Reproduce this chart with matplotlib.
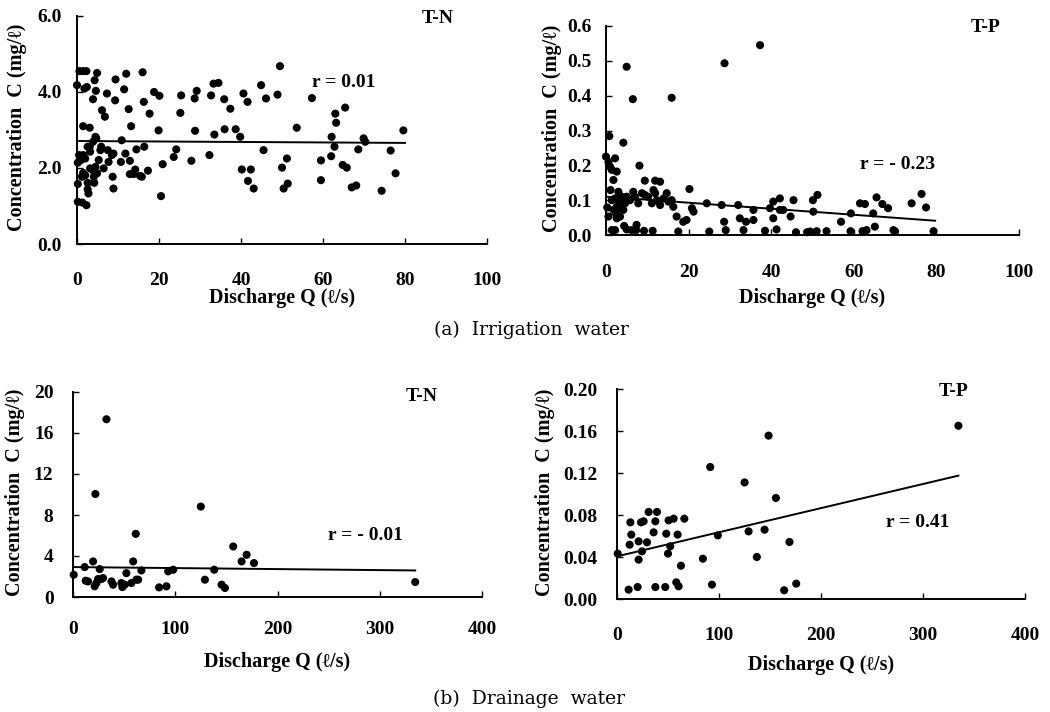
import matplotlib
matplotlib.use("Agg")
import matplotlib.pyplot as plt

# (a) Irrigation water, T-N
irr_tn_q = [0, 0.6, 1.5, 2.3, 1.8, 2.4, 4.9, 4.3, 4.6, 3.9, 7.3, 9.4, 12, 11.5, 9.3,
            6.1, 6.8, 12.6, 16, 16.3, 17.7, 18.8, 20.1, 13.2, 1.5, 3.1, 25.2, 25.4,
            28.7, 29.2, 28.8, 32.7, 33.3, 34.5, 33.5, 35.9, 37.4, 36, 38.7, 39.8,
            40.6, 41.6, 44.9, 46.1, 48.9, 49.5, 45.5, 40.2, 42.4, 41.7, 43.1, 50,
            51.2, 50.4, 51.4, 53.6, 57.3, 59.5, 59.5, 62.1, 62, 63, 63.2, 62.8, 65.4,
            64.8, 65.8, 67, 68.1, 68.6, 69.9, 70.3, 74.3, 76.5, 77.7, 79.6,
            0.2, 0.2, 1.3, 2.3, 0.5, 1, 1.5, 2, 1.2, 1.5, 2, 2.6, 2.6, 2.8, 2.6, 3.2,
            3.1, 3.9, 4.5, 4.7, 3.2, 3.9, 4.5, 4.9, 4.1, 4.2, 5.3, 5.7, 5.9, 6.5, 7.5,
            7.7, 8.5, 8.9, 8.7, 8.9, 10.9, 10.7, 11.8, 12.9, 12.9, 13.8, 14.2, 14.5,
            15.4, 15.8, 16.4, 17.3, 19.9, 20.5, 20.9, 23.6, 24.2, 27.9, 32.3, 0.2]
irr_tn_c = [4.18, 4.55, 4.55, 4.55, 4.09, 4.13, 4.5, 4.31, 4.03, 3.81, 3.96, 4.33, 4.48,
            4.07, 3.78, 3.52, 3.35, 3.55, 4.52, 3.74, 3.43, 4.0, 3.9, 3.1, 3.1, 3.06,
            3.45, 3.91, 3.83, 4.03, 2.98, 3.91, 4.22, 4.24, 2.88, 3.81, 3.56, 3.02,
            3.02, 2.82, 3.96, 3.74, 4.18, 3.83, 3.93, 4.68, 2.47, 1.96, 1.96, 1.66,
            1.46, 2.01, 2.25, 1.46, 1.59, 3.06, 3.84, 2.2, 1.68, 2.82, 2.31, 3.43,
            3.19, 2.56, 3.59, 2.08, 2.01, 1.49, 1.54, 2.49, 2.78, 2.69, 1.4, 2.46,
            1.86, 2.99,
            1.58, 1.11, 1.09, 1.02, 2.34, 2.21, 2.34, 2.25, 1.77, 1.87, 1.81, 1.61,
            1.44, 1.33, 2.56, 2.43, 2.56, 2.69, 2.82, 2.78, 1.99, 1.94, 2.03, 1.86,
            1.77, 1.61, 2.21, 2.47, 2.56, 1.99, 2.47, 2.16, 2.34, 2.38, 1.77, 1.46,
            2.73, 2.16, 2.38, 2.19, 1.84, 1.84, 1.96, 2.49, 1.79, 1.77, 2.56, 1.93,
            2.99, 1.26, 2.1, 2.29, 2.49, 2.19, 2.34, 2.14]
irr_tn_fit_q = [0, 80]
irr_tn_fit_c = [2.71, 2.66]

# (a) Irrigation water, T-P
irr_tp_q = [5, 6.5, 15.9, 28.7, 37.3, 0.8, 4.2, 0, 0.6, 1, 1.4, 2.2, 2.6, 1.8, 8.1, 9.4,
            11.9, 13.1, 20.2, 0.6, 0.3, 1.1,
            1.4, 2.2, 2.6, 3, 3.4, 1.8, 2.4, 3, 3.8, 4.2, 4.6, 3.4, 2.6, 5,
            5.8, 6.6, 7, 7.8, 8.7, 9.4, 10.2, 11.1, 11.5, 11.9, 12.3, 13.1, 13.9, 14.7,
            15.1, 15.9, 16.3, 17.1, 18.7, 19.5, 20.8, 21.2, 24.4, 28, 28.6, 32, 32.4,
            33.9, 35.7, 35.7, 39.7, 40.5, 42.1, 42.1, 40.5, 42.9, 44.7, 45.4, 50.1,
            51.2, 50.2, 56.9, 59.3, 61.5, 62.7, 64.7, 65.5, 66.9, 68.3, 74, 76.4, 77.5,
            1.4, 2.2, 4.4, 5, 6.2, 7.4, 7.3, 9.2, 11.3, 17.5, 25, 29, 33.3, 38.5, 41.3,
            46, 48.7, 49.4, 51, 53.4, 59.2, 62.1, 63.1, 65.1, 69.6, 70, 79.3]
irr_tp_c = [0.483, 0.39, 0.394, 0.493, 0.545, 0.284, 0.265, 0.225, 0.21, 0.196, 0.187,
            0.22, 0.182, 0.158, 0.199, 0.156, 0.156, 0.153, 0.132, 0.053, 0.079, 0.129,
            0.1, 0.105, 0.081, 0.096, 0.077, 0.072, 0.062, 0.124, 0.11, 0.072, 0.091,
            0.053, 0.048, 0.11,
            0.1, 0.124, 0.11, 0.091, 0.12, 0.115, 0.11, 0.091, 0.129, 0.12, 0.1, 0.086,
            0.105, 0.12, 0.096, 0.1, 0.081, 0.053, 0.038, 0.043, 0.077, 0.067, 0.091,
            0.086, 0.038, 0.086, 0.048, 0.038, 0.043, 0.072, 0.077, 0.096, 0.105, 0.072,
            0.048, 0.072, 0.053, 0.1, 0.1, 0.115, 0.067, 0.038, 0.062, 0.091, 0.089,
            0.062, 0.108, 0.089, 0.077, 0.091, 0.118, 0.079,
            0.014, 0.014, 0.026, 0.016, 0.014, 0.029, 0.014, 0.012, 0.012, 0.01, 0.01,
            0.014, 0.014, 0.012, 0.016, 0.008, 0.008, 0.01, 0.011, 0.011, 0.011, 0.011,
            0.014, 0.024, 0.014, 0.01, 0.011]
irr_tp_fit_q = [0, 79.7]
irr_tp_fit_c = [0.110, 0.041]

# (b) Drainage water, T-N
dr_tn_q = [0.7, 11.4, 12.4, 14.7, 19.6, 21.9, 21.2, 22.9, 24.5, 26.1, 27.8, 29.4, 32.7,
           37.6, 39.2, 47.3, 48.3, 50.6, 52.2, 57.1, 58.8, 61.4, 62, 63.7, 66.9, 84.2,
           91.4, 93.1, 98, 125, 129, 138.1, 145.3, 148.6, 156.7, 164.9, 169.8, 177,
           334.7]
dr_tn_c = [2.17, 2.92, 1.59, 1.52, 3.47, 10.05, 1.04, 1.36, 1.75, 2.72, 1.75, 1.85,
           17.34, 1.52, 1.2, 1.36, 0.97, 1.2, 2.33, 1.36, 3.47, 6.16, 1.69, 1.69, 2.59,
           0.94, 1.04, 2.5, 2.66, 8.82, 1.69, 2.66, 1.2, 0.88, 4.93, 3.47, 4.12, 3.31,
           1.46]
dr_tn_fit_q = [0, 334.7]
dr_tn_fit_c = [2.92, 2.59]

# (b) Drainage water, T-P
dr_tp_q = [0.7, 11.4, 12.4, 13.1, 14, 20.2, 21.2, 21.2, 23.5, 24.5, 26.1, 29.4, 31, 35.9,
           37.6, 37.6, 39.2, 47.3, 48.3, 50, 50.6, 52.2, 55.5, 58.1, 59.4, 60.4, 62.7,
           66, 84.2, 91.4, 93.1, 98.9, 125.1, 129, 137.1, 144.7, 148.6, 155.8, 163.9,
           169.1, 175.7, 334.7]
dr_tp_c = [0.0432, 0.0089, 0.0517, 0.073, 0.0613, 0.0114, 0.0549, 0.0375, 0.073, 0.0454,
           0.074, 0.054, 0.0829, 0.0635, 0.074, 0.0114, 0.0829, 0.0114, 0.0622, 0.0432,
           0.0749, 0.0502, 0.0765, 0.0159, 0.0613, 0.0121, 0.0317, 0.0765, 0.0384,
           0.1257, 0.0137, 0.0606, 0.111, 0.0644, 0.04, 0.066, 0.1556, 0.0962, 0.0083,
           0.0543, 0.0146, 0.165]
dr_tp_fit_q = [0, 334.7]
dr_tp_fit_c = [0.0406, 0.1175]

W, H = 1050, 712
SERIF = ["Liberation Serif", "DejaVu Serif"]
plt.rcParams["font.family"] = SERIF
plt.rcParams["font.weight"] = "bold"

fig = plt.figure(figsize=(W / 100, H / 100), dpi=100)


def px_axes(left, top, right, bottom):
    return fig.add_axes([left / W, 1 - bottom / H, (right - left) / W, (bottom - top) / H])


def panel(ax, q, c, fq, fc, xmax, xstep, ymax, yticks, yfmt, xpad, ypad,
          name, name_pos, r_text, r_pos, xlab_y, ylab_x):
    ax.scatter(q, c, s=34, color="black", edgecolors="none", zorder=3, clip_on=False)
    ax.plot(fq, fc, color="black", lw=1.4, zorder=2)
    ax.set_xlim(0, xmax)
    ax.set_ylim(0, ymax)
    xt = list(range(0, xmax + 1, xstep))
    ax.set_xticks(xt)
    ax.set_xticklabels([str(v) for v in xt], fontweight="bold", fontsize=14)
    ax.set_yticks(yticks)
    ax.set_yticklabels([yfmt.format(v) for v in yticks], fontweight="bold", fontsize=14)
    for s in ["top", "right"]:
        ax.spines[s].set_visible(False)
    for s in ["left", "bottom"]:
        ax.spines[s].set_linewidth(1.4)
    ax.tick_params(axis="x", direction="in", length=4, width=1, pad=xpad)
    ax.tick_params(axis="y", direction="in", length=4, width=1, pad=ypad)
    ax.set_xlabel("Discharge Q (ℓ/s)", fontsize=14.5, fontweight="bold")
    ax.xaxis.label.set_va("center")
    ax.xaxis.set_label_coords(0.5, xlab_y)
    ax.set_ylabel("Concentration  C (mg/ℓ)", fontsize=14.5, fontweight="bold")
    ax.yaxis.label.set_va("center")
    ax.yaxis.set_label_coords(ylab_x, 0.51)
    ax.text(name_pos[0], name_pos[1], name, transform=ax.transAxes, ha="center",
            va="center", fontsize=14, fontweight="bold")
    ax.text(r_pos[0], r_pos[1], r_text, transform=ax.transAxes, ha="center",
            va="center", fontsize=14, fontweight="bold")


ax1 = px_axes(77, 16, 487, 244)
panel(ax1, irr_tn_q, irr_tn_c, irr_tn_fit_q, irr_tn_fit_c, 100, 20, 6.0,
      [0, 2, 4, 6], "{:.1f}", 20, 11, "T-N", (0.88, 0.99), "r = 0.01", (0.65, 0.71),
      -0.237, -0.146)

ax2 = px_axes(606, 26, 1019, 235)
panel(ax2, irr_tp_q, irr_tp_c, irr_tp_fit_q, irr_tp_fit_c, 100, 20, 0.6,
      [0, 0.1, 0.2, 0.3, 0.4, 0.5, 0.6], "{:.1f}", 21, 10, "T-P", (0.92, 0.995),
      "r = - 0.23", (0.705, 0.335), -0.30, -0.131)

ax3 = px_axes(73, 392, 482, 597)
panel(ax3, dr_tn_q, dr_tn_c, dr_tn_fit_q, dr_tn_fit_c, 400, 100, 20,
      [0, 4, 8, 12, 16, 20], "{:d}", 17, 14, "T-N", (0.853, 0.976), "r = - 0.01",
      (0.714, 0.302), -0.317, -0.142)

ax4 = px_axes(617, 389, 1025, 599)
panel(ax4, dr_tp_q, dr_tp_c, dr_tp_fit_q, dr_tp_fit_c, 400, 100, 0.20,
      [0, 0.04, 0.08, 0.12, 0.16, 0.20], "{:.2f}", 20, 14, "T-P", (0.824, 0.986),
      "r = 0.41", (0.738, 0.362), -0.314, -0.176)

cap_font = ["DejaVu Serif"]
fig.text(531 / W, 1 - 330 / H, "(a)  Irrigation  water", ha="center", va="center",
         fontsize=13.5, family=cap_font, fontweight="normal")
fig.text(529 / W, 1 - 699 / H, "(b)  Drainage  water", ha="center", va="center",
         fontsize=13.5, family=cap_font, fontweight="normal")

fig.savefig("out.png", dpi=100, facecolor="white")
